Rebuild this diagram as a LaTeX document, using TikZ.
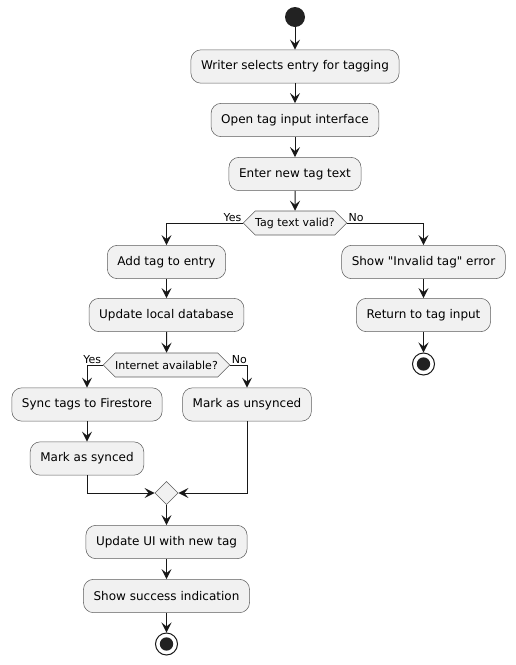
\documentclass[tikz,border=0pt]{standalone}
\usepackage{fontspec}
\setmainfont{DejaVu Sans}[Ligatures=TeXOff]
\usetikzlibrary{arrows.meta,shapes.geometric,shapes.symbols}
\definecolor{boxgray}{HTML}{F1F1F1}
\definecolor{ink}{HTML}{181818}
\definecolor{dot}{HTML}{222222}

\begin{document}
\begin{tikzpicture}[x=0.75pt,y=-0.75pt,
	act/.style={draw=ink!70, line width=0.4pt, fill=boxgray, rounded corners=7.5pt, minimum height=25pt, inner xsep=7.6pt, font=\fontsize{9}{11}\selectfont},
	test/.style={signal, signal to=west and east, draw=ink!70, line width=0.4pt, fill=boxgray, minimum height=18pt, inner xsep=0pt, font=\fontsize{8.25}{10}\selectfont},
	merge/.style={diamond, draw=ink!70, line width=0.4pt, fill=boxgray, minimum size=17.5pt, inner sep=0pt},
	flow/.style={draw=ink, line width=0.75pt, -{Stealth[length=7.5pt,width=7.5pt,inset=3pt]}},
	lbl/.style={font=\fontsize{8.25}{10}\selectfont, inner sep=1pt}]
	\useasboundingbox (0,0) rectangle (515,665);

	% main column
	\node[circle, fill=dot, minimum size=15pt, inner sep=0pt] (start) at (295,17) {};
	\node[act] (writer) at (295,66.5) {Writer selects entry for tagging};
	\node[act] (open) at (295,120) {Open tag input interface};
	\node[act] (enter) at (295,174) {Enter new tag text};
	\node[test] (valid) at (295,223) {Tag text valid?};
	\node[lbl, anchor=south east] (yesA) at (valid.west) {Yes};
	\node[lbl, anchor=south west] (noA) at (valid.east) {No};

	% invalid branch
	\node[act] (invalid) at (423.5,262) {Show "Invalid tag" error};
	\node[act] (back) at (423.5,315) {Return to tag input};
	\node[circle, draw=ink, line width=0.75pt, fill=white, minimum size=16.5pt, inner sep=0pt] (stopA) at (423.5,364) {};
	\fill[dot] (stopA) circle (5pt);

	% valid branch
	\node[act] (add) at (166.5,262) {Add tag to entry};
	\node[act] (localdb) at (166.5,315) {Update local database};
	\node[test] (online) at (166.5,365) {Internet available?};
	\node[lbl, anchor=south east] (yesB) at (online.west) {Yes};
	\node[lbl, anchor=south west] (noB) at (online.east) {No};

	\node[act] (sync) at (87,404.5) {Sync tags to Firestore};
	\node[act] (synced) at (87,458.5) {Mark as synced};
	\node[act] (unsynced) at (247,404.5) {Mark as unsynced};
	\node[merge] (join) at (166.5,493) {};

	\node[act] (ui) at (166.5,542) {Update UI with new tag};
	\node[act] (success) at (166.5,596) {Show success indication};
	\node[circle, draw=ink, line width=0.75pt, fill=white, minimum size=16.5pt, inner sep=0pt] (stopB) at (166.5,644) {};
	\fill[dot] (stopB) circle (5pt);

	% connectors
	\draw[flow] (start) -- (writer);
	\draw[flow] (writer) -- (open);
	\draw[flow] (open) -- (enter);
	\draw[flow] (enter) -- (valid);
	\draw[flow] (valid.west) -| (add);
	\draw[flow] (valid.east) -| (invalid);
	\draw[flow] (invalid) -- (back);
	\draw[flow] (back) -- (stopA);
	\draw[flow] (add) -- (localdb);
	\draw[flow] (localdb) -- (online);
	\draw[flow] (online.west) -| (sync);
	\draw[flow] (online.east) -| (unsynced);
	\draw[flow] (sync) -- (synced);
	\draw[flow] (synced) |- (join);
	\draw[flow] (unsynced) |- (join);
	\draw[flow] (join) -- (ui);
	\draw[flow] (ui) -- (success);
	\draw[flow] (success) -- (stopB);
\end{tikzpicture}
\end{document}
